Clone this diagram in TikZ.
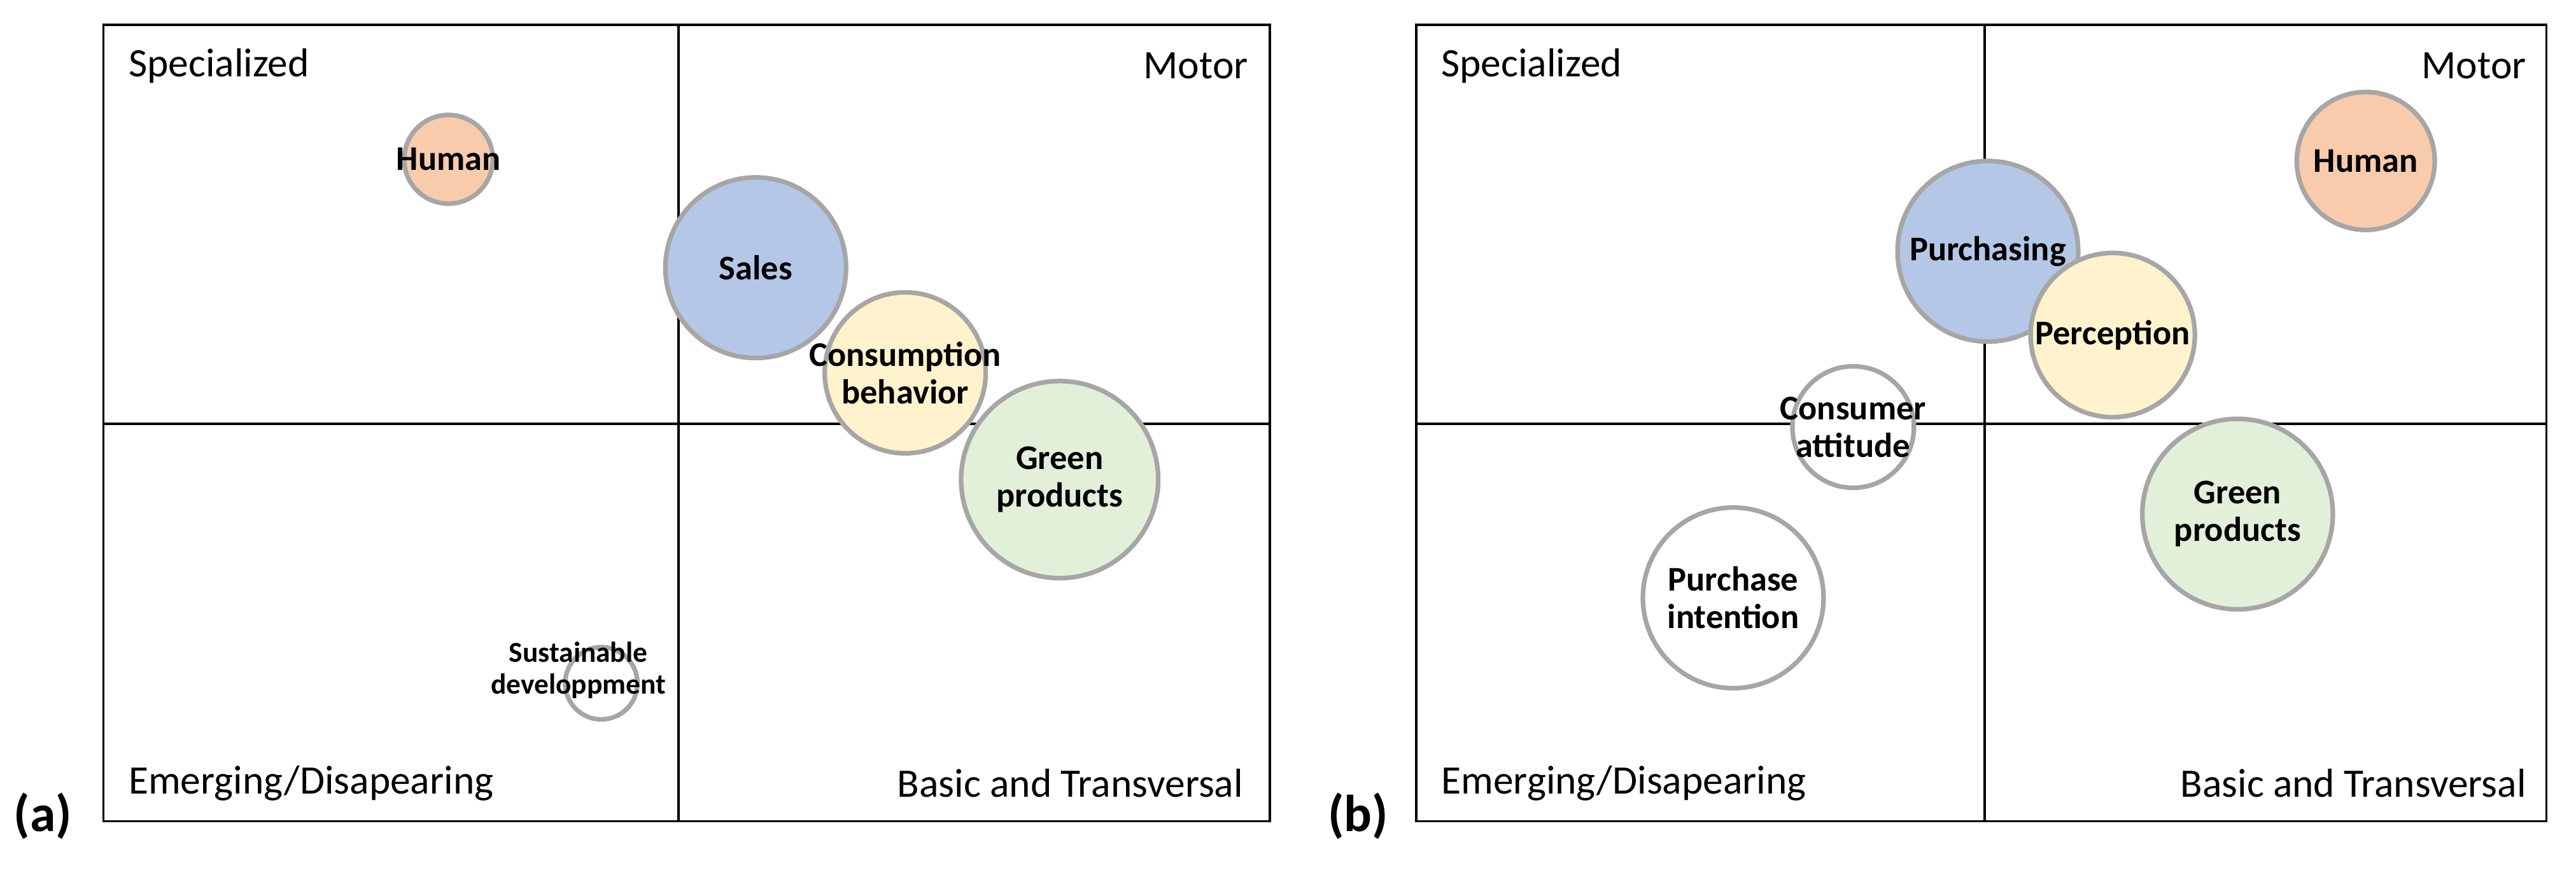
\documentclass[tikz,border=0pt]{standalone}
\usepackage{fontspec}
\setmainfont{Carlito}
\definecolor{bubOrange}{HTML}{F8CBAD}
\definecolor{bubBlue}{HTML}{B4C7E7}
\definecolor{bubYellow}{HTML}{FFF2CC}
\definecolor{bubGreen}{HTML}{E2F0D9}
\definecolor{bubEdge}{HTML}{A6A6A6}
\tikzset{
  bubble/.style={circle, draw=bubEdge, line width=1.6pt, inner sep=0pt},
  btext/.style={align=center, inner sep=0pt, font=\fontsize{12}{13}\selectfont\bfseries},
  quad/.style={font=\fontsize{14}{16}\selectfont, inner sep=0pt},
  frame/.style={draw, line width=0.8pt},
  tag/.style={font=\fontsize{18}{20}\selectfont\bfseries, inner sep=0pt}
}
\begin{document}
\begin{tikzpicture}[x=0.02cm, y=-0.02cm]
  \useasboundingbox (0,0) rectangle (1568,541);

  % Panel (a)
  \draw[frame] (63,15) rectangle (773,500);
  \draw[frame] (413,15) -- (413,500);
  \draw[frame] (63,258) -- (773,258);
  \node[quad, anchor=west] (aSpec) at (78,40) {Specialized};
  \node[quad, anchor=east] (aMotor) at (760,40) {Motor};
  \node[quad, anchor=west] (aEmer) at (78,477) {Emerging/Disapearing};
  \node[quad, anchor=east] (aBasic) at (757,477) {Basic and Transversal};
  \node[tag, anchor=west] (aTag) at (8,497) {(a)};

  \node[bubble, fill=bubOrange, minimum size=1.08cm] (aHuman) at (273,97) {};
  \node[btext] at (aHuman) {Human};
  \node[bubble, fill=bubBlue, minimum size=2.2cm] (aSales) at (460,163) {};
  \node[btext] at (aSales) {Sales};
  \node[bubble, fill=bubYellow, minimum size=1.96cm] (aCons) at (551,227) {};
  \node[btext] at (aCons) {Consumption\\behavior};
  \node[bubble, fill=bubGreen, minimum size=2.4cm] (aGreen) at (645,292) {};
  \node[btext] at (aGreen) {Green\\products};
  \node[bubble, fill=white, minimum size=0.88cm] (aSust) at (366,416) {};
  \node[btext, font=\fontsize{10}{11}\selectfont\bfseries] (aSustText) at (352,408) {Sustainable\\developpment};

  % Panel (b)
  \draw[frame] (862,15) rectangle (1550,500);
  \draw[frame] (1208,15) -- (1208,500);
  \draw[frame] (862,258) -- (1550,258);
  \node[quad, anchor=west] (bSpec) at (877,40) {Specialized};
  \node[quad, anchor=east] (bMotor) at (1538,40) {Motor};
  \node[quad, anchor=west] (bEmer) at (877,477) {Emerging/Disapearing};
  \node[quad, anchor=east] (bBasic) at (1538,477) {Basic and Transversal};
  \node[tag, anchor=west] (bTag) at (808,497) {(b)};

  \node[bubble, fill=bubBlue, minimum size=2.2cm] (bPurch) at (1210,153) {};
  \node[btext] at (bPurch) {Purchasing};
  \node[bubble, fill=bubOrange, minimum size=1.68cm] (bHuman) at (1440,98) {};
  \node[btext] at (bHuman) {Human};
  \node[bubble, fill=bubYellow, minimum size=2.0cm] (bPerc) at (1286,204) {};
  \node[btext] at (bPerc) {Perception};
  \node[bubble, fill=white, minimum size=1.48cm] (bAtt) at (1128,260) {};
  \node[btext] at (bAtt) {Consumer\\attitude};
  \node[bubble, fill=bubGreen, minimum size=2.32cm] (bGreen) at (1362,313) {};
  \node[btext] at (bGreen) {Green\\products};
  \node[bubble, fill=white, minimum size=2.2cm] (bIntent) at (1055,364) {};
  \node[btext] at (bIntent) {Purchase\\intention};
\end{tikzpicture}
\end{document}
